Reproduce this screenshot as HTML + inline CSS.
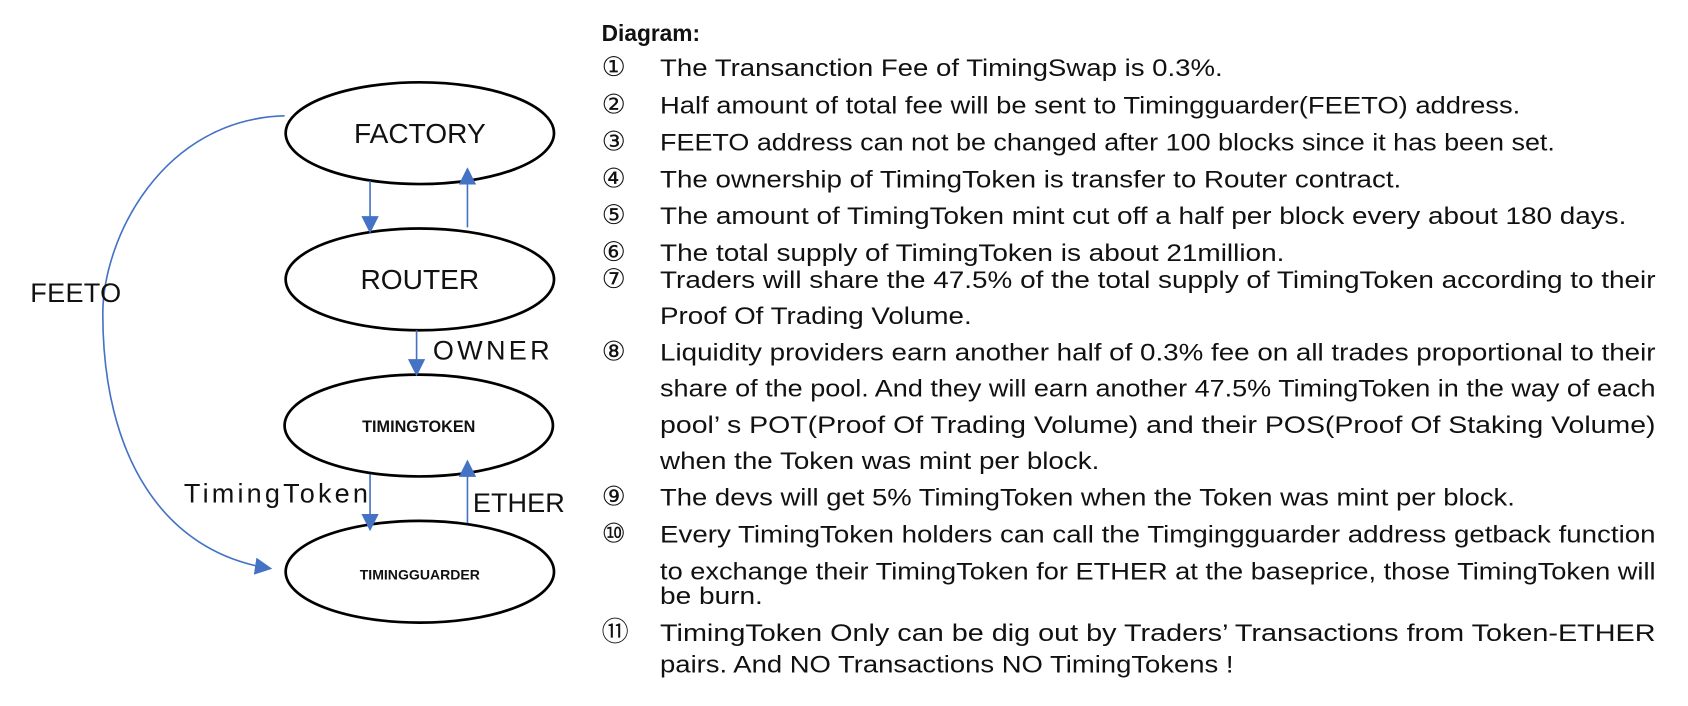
<!DOCTYPE html>
<html><head><meta charset="utf-8"><style>
html,body{margin:0;padding:0;background:#fff;}
svg{display:block;}
text{font-family:"Liberation Sans","DejaVu Sans",sans-serif;fill:#111;}
.n{font-family:"DejaVu Sans",sans-serif;font-size:25px;}
</style></head><body>
<svg width="1688" height="706" viewBox="0 0 1560 652" preserveAspectRatio="none" xmlns="http://www.w3.org/2000/svg">
<defs>
<marker id="b" viewBox="0 0 10 10" markerWidth="16" markerHeight="16" refX="9" refY="5" orient="auto" markerUnits="userSpaceOnUse"><path d="M0,0 L10,5 L0,10 Z" fill="#4472c4"/></marker>
</defs>
<g fill="none" stroke="#000" stroke-width="2.5">
<ellipse cx="388" cy="123" rx="124" ry="47"/>
<ellipse cx="388" cy="258" rx="124" ry="47"/>
<ellipse cx="387" cy="393" rx="124" ry="47"/>
<ellipse cx="388" cy="528" rx="124" ry="47"/>
</g>
<g stroke="#4472c4" stroke-width="1.5" fill="none">
<line x1="342" y1="167" x2="342" y2="214" marker-end="url(#b)"/>
<line x1="432" y1="210" x2="432" y2="156" marker-end="url(#b)"/>
<line x1="385" y1="305" x2="385" y2="346" marker-end="url(#b)"/>
<line x1="342" y1="438" x2="342" y2="489" marker-end="url(#b)"/>
<line x1="432" y1="483" x2="432" y2="426" marker-end="url(#b)"/>
<path d="M263,107 C150,110 95,220 95,290 C95,420 150,510 250,525" marker-end="url(#b)"/>
</g>
<g font-size="26" text-anchor="middle">
<text x="388" y="132">FACTORY</text>
<text x="388" y="267">ROUTER</text>
</g>
<text x="387" y="399" font-size="15" font-weight="bold" text-anchor="middle">TIMINGTOKEN</text>
<text x="388" y="535" font-size="13" font-weight="bold" text-anchor="middle">TIMINGGUARDER</text>
<g font-size="25">
<text x="28" y="279" textLength="84">FEETO</text>
<text x="400" y="332" textLength="108">OWNER</text>
<text x="170" y="464" textLength="170">TimingToken</text>
<text x="437" y="473" textLength="85">ETHER</text>
</g>
<text x="556" y="38" font-size="21" font-weight="bold">Diagram:</text>
<g font-size="22" lengthAdjust="spacingAndGlyphs">
<text class="n" x="556" y="70">①</text><text x="610" y="70" textLength="520" lengthAdjust="spacingAndGlyphs">The Transanction Fee of TimingSwap is 0.3%.</text>
<text class="n" x="556" y="105">②</text><text x="610" y="105" textLength="795" lengthAdjust="spacingAndGlyphs">Half amount of total fee will be sent to Timingguarder(FEETO) address.</text>
<text class="n" x="556" y="139">③</text><text x="610" y="139" textLength="827" lengthAdjust="spacingAndGlyphs">FEETO address can not be changed after 100 blocks since it has been set.</text>
<text class="n" x="556" y="173">④</text><text x="610" y="173" textLength="685" lengthAdjust="spacingAndGlyphs">The ownership of TimingToken is transfer to Router contract.</text>
<text class="n" x="556" y="207">⑤</text><text x="610" y="207" textLength="893" lengthAdjust="spacingAndGlyphs">The amount of TimingToken mint cut off a half per block every about 180 days.</text>
<text class="n" x="556" y="241">⑥</text><text x="610" y="241" textLength="577" lengthAdjust="spacingAndGlyphs">The total supply of TimingToken is about 21million.</text>
<text class="n" x="556" y="266">⑦</text><text x="610" y="266" textLength="920" lengthAdjust="spacingAndGlyphs">Traders will share the 47.5% of the total supply of TimingToken according to their</text>
<text x="610" y="299" textLength="288" lengthAdjust="spacingAndGlyphs">Proof Of Trading Volume.</text>
<text class="n" x="556" y="333">⑧</text><text x="610" y="333" textLength="920" lengthAdjust="spacingAndGlyphs">Liquidity providers earn another half of 0.3% fee on all trades proportional to their</text>
<text x="610" y="366" textLength="920" lengthAdjust="spacingAndGlyphs">share of the pool. And they will earn another 47.5% TimingToken in the way of each</text>
<text x="610" y="400" textLength="920" lengthAdjust="spacingAndGlyphs">pool’  s POT(Proof Of Trading Volume) and their POS(Proof Of Staking Volume)</text>
<text x="610" y="433" textLength="406" lengthAdjust="spacingAndGlyphs">when the Token was mint per block.</text>
<text class="n" x="556" y="467">⑨</text><text x="610" y="467" textLength="790" lengthAdjust="spacingAndGlyphs">The devs will get 5% TimingToken when the Token was mint per block.</text>
<text class="n" x="556" y="501">⑩</text><text x="610" y="501" textLength="920" lengthAdjust="spacingAndGlyphs">Every TimingToken holders can call the Timgingguarder address getback function</text>
<text x="610" y="535" textLength="920" lengthAdjust="spacingAndGlyphs">to exchange their TimingToken for ETHER at the baseprice, those TimingToken will</text>
<text x="610" y="558" textLength="95" lengthAdjust="spacingAndGlyphs">be burn.</text>
<text class="n" x="556" y="592">⑪</text><text x="610" y="592" textLength="920" lengthAdjust="spacingAndGlyphs">TimingToken Only can be dig out by Traders’  Transactions from Token-ETHER</text>
<text x="610" y="621" textLength="530" lengthAdjust="spacingAndGlyphs">pairs. And NO Transactions NO TimingTokens !</text>
</g>
</svg>
</body></html>
